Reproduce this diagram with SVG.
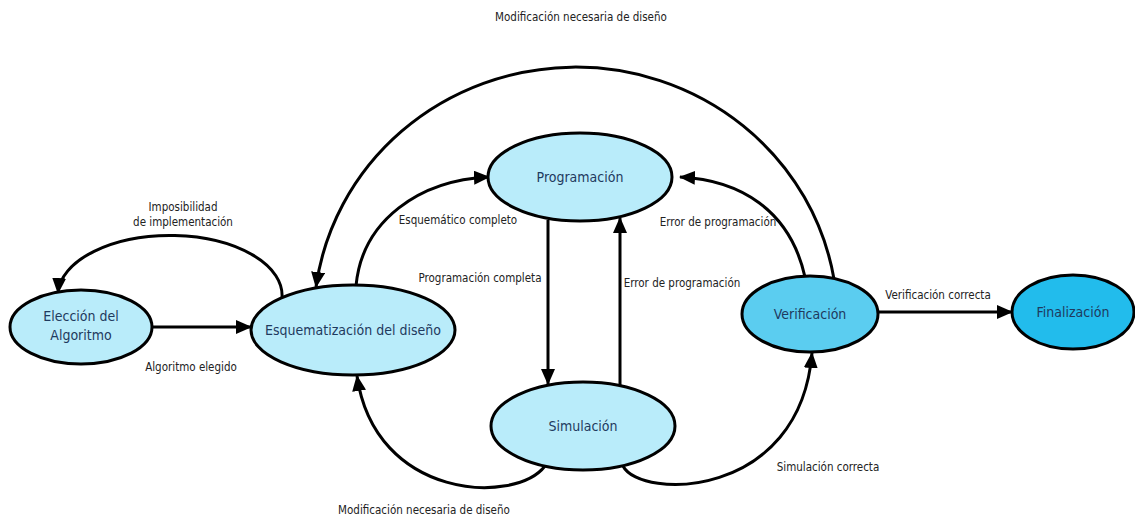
<svg xmlns="http://www.w3.org/2000/svg" width="1135" height="518" viewBox="0 0 1135 518">
<defs>
<marker id="ah" markerWidth="16" markerHeight="14" refX="15" refY="7" orient="auto" markerUnits="userSpaceOnUse">
<path d="M0,0 L16,7 L0,14 Z" fill="#000"/>
</marker>
<style>
.n{stroke:#000;stroke-width:3}
.lt{fill:#B9ECFA}
.md{fill:#5BCDF0}
.dk{fill:#22BCEC}
.nt{font-family:"DejaVu Sans Condensed","DejaVu Sans",sans-serif;font-size:14px;fill:#1F3A5E;text-anchor:middle}
.lb{font-family:"DejaVu Sans Condensed","DejaVu Sans",sans-serif;font-size:11.5px;fill:#222;text-anchor:middle}
.c{fill:none;stroke:#000;stroke-width:3;marker-end:url(#ah)}
</style>
</defs>
<rect width="1135" height="518" fill="#fff"/>
<g id="connectors">
<path class="c" d="M152,327 L251,327"/>
<path class="c" d="M282,298 A112,60 0 0 0 58,293"/>
<path class="c" d="M356,286 C362,220 420,180 489,177"/>
<path class="c" d="M548,220 L548,384"/>
<path class="c" d="M620,385 L620,218"/>
<path class="c" d="M805,277 C790,210 740,180 680,177"/>
<path class="c" d="M834,279 A262,254 0 0 0 316,287"/>
<path class="c" d="M545,466 C515,505 375,500 357,376"/>
<path class="c" d="M623,466 C640,500 800,500 812,353"/>
<path class="c" d="M878,312 L1012,312"/>
</g>
<g id="eleccion">
<ellipse class="n lt" cx="81" cy="327" rx="71" ry="37"/>
<text class="nt" x="81" y="321">Elección del</text>
<text class="nt" x="81" y="340">Algoritmo</text>
</g>
<g id="esquematizacion">
<ellipse class="n lt" cx="353" cy="330" rx="102" ry="45"/>
<text class="nt" x="353" y="335">Esquematización del diseño</text>
</g>
<g id="programacion">
<ellipse class="n lt" cx="580" cy="177" rx="92" ry="44"/>
<text class="nt" x="580" y="182">Programación</text>
</g>
<g id="simulacion">
<ellipse class="n lt" cx="583" cy="426" rx="92" ry="44"/>
<text class="nt" x="583" y="431">Simulación</text>
</g>
<g id="verificacion">
<ellipse class="n md" cx="810" cy="314" rx="68" ry="38"/>
<text class="nt" x="810" y="319">Verificación</text>
</g>
<g id="finalizacion">
<ellipse class="n dk" cx="1073" cy="312" rx="61" ry="37"/>
<text class="nt" x="1073" y="317">Finalización</text>
</g>
<g id="labels">
<text class="lb" x="581" y="21">Modificación necesaria de diseño</text>
<text class="lb" x="183" y="211">Imposibilidad</text>
<text class="lb" x="183" y="226">de implementación</text>
<text class="lb" x="458" y="224">Esquemático completo</text>
<text class="lb" x="480" y="282">Programación completa</text>
<text class="lb" x="682" y="287">Error de programación</text>
<text class="lb" x="718" y="226">Error de programación</text>
<text class="lb" x="938" y="299">Verificación correcta</text>
<text class="lb" x="191" y="371">Algoritmo elegido</text>
<text class="lb" x="424" y="514">Modificación necesaria de diseño</text>
<text class="lb" x="828" y="471">Simulación correcta</text>
</g>
</svg>
